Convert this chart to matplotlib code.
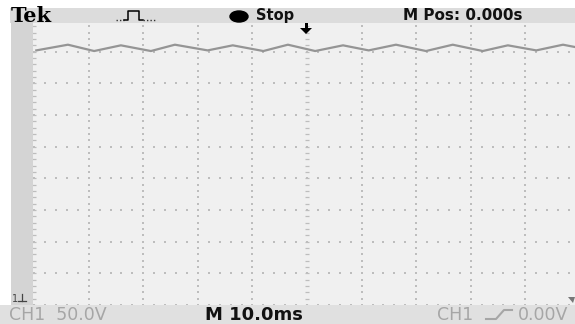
import numpy as np
import matplotlib
matplotlib.use('Agg')
import matplotlib.pyplot as plt
from matplotlib.patches import Rectangle, Ellipse, Polygon
from matplotlib.lines import Line2D

# ripple (time in ms from trigger, volts, 50 V/div, 0 V at bottom)
peak_ms = [-43.8, -34.1, -24.2, -13.6, -3.5, 6.6, 16.3, 26.7, 36.8, 46.9]
peak_v = [411, 410, 411, 410, 411, 410, 411, 411, 410, 411]
trough_ms = [-49.6, -39.0, -28.6, -18.2, -8.0, 1.5, 11.3, 21.8, 32.2, 42.0, 52.3]
trough_v = [402, 401, 401, 402, 401, 401, 402, 401, 401, 402, 402]

header_labels = ['Tek', 'Stop', 'M Pos: 0.000s']
footer_labels = ['CH1  50.0V', 'M 10.0ms', 'CH1', '0.00V']

W, H = 575, 324
fig = plt.figure(figsize=(W / 100, H / 100), dpi=100)
fig.patch.set_facecolor('white')

# screen area in pixels
left, right, top, bottom = 33, 575, 20, 305
ax = fig.add_axes([left / W, 1 - bottom / H, (right - left) / W, (bottom - top) / H])
ax.set_facecolor('#f0f0f0')
ax.set_xlim(-50.2, 49.1)
ax.set_ylim(0, 450)
for s in ax.spines.values():
    s.set_visible(False)
ax.set_xticks([])
ax.set_yticks([])

# graticule dots
dot = '#bdbdbd'
tx = np.arange(-50, 50, 2)
rows = np.arange(0, 451, 50)
gx, gy = np.meshgrid(tx, rows)
ax.scatter(gx.ravel(), gy.ravel(), s=2.0, marker='s', color=dot, lw=0, zorder=1)
cols = np.arange(-40, 50, 10)
vy = np.arange(0, 451, 10)
cx, cy = np.meshgrid(cols[cols != 0], vy)
ax.scatter(cx.ravel(), cy.ravel(), s=1.4, marker='s', color=dot, lw=0, zorder=1)
for c in [-50, 0]:
    ax.scatter(np.full(len(vy), c), vy, s=8, marker='_', color=dot, lw=0.9, zorder=1)

# trace
t = np.array(peak_ms + trough_ms)
v = np.array(peak_v + trough_v)
order = np.argsort(t)
ax.plot(t[order], v[order], color='#959595', lw=1.6, solid_joinstyle='round', zorder=3)

# overlay for readouts, in pixel coords
ov = fig.add_axes([0, 0, 1, 1], zorder=5)
ov.set_xlim(0, W)
ov.set_ylim(H, 0)
ov.axis('off')
ov.patch.set_alpha(0)

ov.add_patch(Rectangle((10, 8), W - 10, 15, color='#dcdcdc', lw=0))
ov.add_patch(Rectangle((11, 20), left - 11, bottom - 20, color='#d4d4d4', lw=0))
ov.add_patch(Rectangle((0, 305), W, H - 305, color='#e0e0e0', lw=0))

ov.text(11, 16, header_labels[0], fontsize=15, fontweight='bold', family='DejaVu Serif',
        va='center', ha='left', color='black')
ov.add_line(Line2D([116, 124], [20, 20], color='#333333', lw=1, ls=(0, (1, 1.5))))
ov.add_line(Line2D([124, 128, 128, 139, 139, 143], [20, 20, 11, 11, 20, 20], color='black', lw=1.1))
ov.add_line(Line2D([143, 155], [20, 20], color='#333333', lw=1, ls=(0, (1, 1.5))))
ov.add_patch(Ellipse((239, 16.5), 18, 11, color='black'))
ov.text(256, 15.5, header_labels[1], fontsize=10.5, fontweight='semibold', va='center', ha='left', color='#111111')
ov.text(403, 15.5, header_labels[2], fontsize=11, fontweight='semibold', va='center', ha='left', color='#111111')
# trigger position arrow
ov.add_patch(Polygon([[300, 28], [312, 28], [306, 34]], closed=True, color='black', lw=0))
ov.add_patch(Rectangle((304.5, 23), 3, 5.5, color='black', lw=0))

# ground marker
ov.text(12, 299, '1', fontsize=7, va='center', ha='left', color='#444444')
ov.add_line(Line2D([22, 22], [294, 301], color='#444444', lw=0.9))
ov.add_line(Line2D([18, 26], [301, 301], color='#444444', lw=0.9))

grey = '#a6a6a6'
ov.text(9, 315, footer_labels[0], fontsize=12.5, va='center', ha='left', color=grey)
ov.text(205, 315, footer_labels[1], fontsize=13, fontweight='semibold', va='center', ha='left', color='#111111')
ov.text(437, 315, footer_labels[2], fontsize=12.5, va='center', ha='left', color=grey)
ov.add_line(Line2D([486, 496, 504, 512], [319, 319, 310, 310], color=grey, lw=1.5))
ov.text(518, 315, footer_labels[3], fontsize=12.5, va='center', ha='left', color=grey)
ov.add_patch(Polygon([[568, 297], [575, 297], [573, 303]], closed=True, color='#777777', lw=0))

fig.savefig('out.png', dpi=100)
